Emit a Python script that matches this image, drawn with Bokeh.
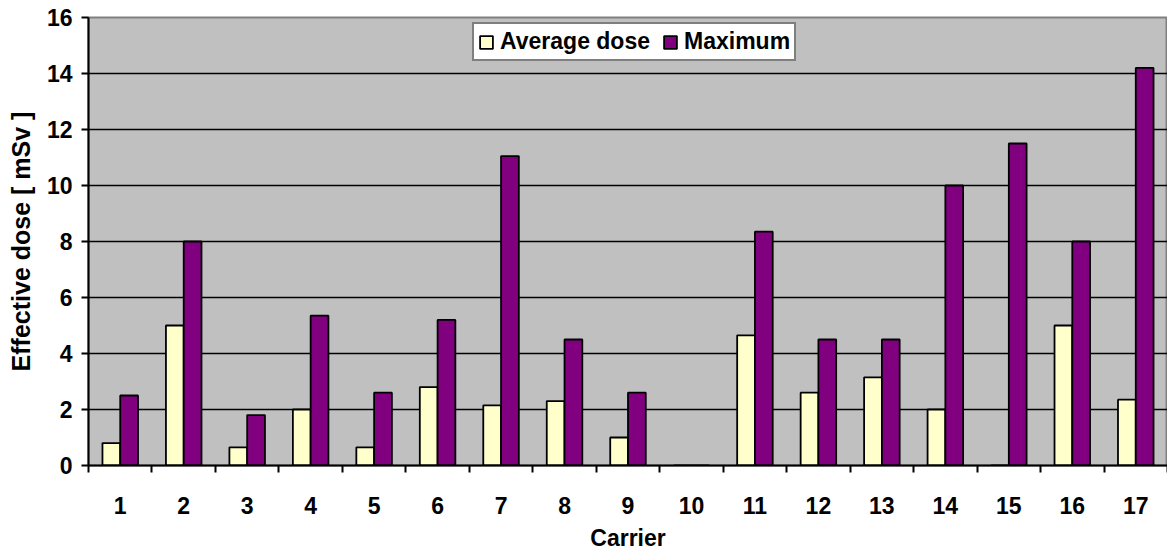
from bokeh.plotting import figure
from bokeh.models import Range1d, FixedTicker, ColumnDataSource, Legend, LegendItem
from bokeh.transform import dodge
from bokeh.embed import file_html
from bokeh.resources import INLINE

carriers = list(range(1, 18))
carrier_labels = [str(c) for c in carriers]
average_dose = [0.8, 5.0, 0.65, 2.0, 0.65, 2.8, 2.15, 2.3, 1.0, 0.0, 4.65, 2.6, 3.15, 2.0, 0.0, 5.0, 2.35]
maximum_dose = [2.5, 8.0, 1.8, 5.35, 2.6, 5.2, 11.05, 4.5, 2.6, 0.0, 8.35, 4.5, 4.5, 10.0, 11.5, 8.0, 14.2]
y_ticks = [0, 2, 4, 6, 8, 10, 12, 14, 16]

FONT = "Liberation Sans"

src = ColumnDataSource(dict(x=carriers, avg=average_dose, mx=maximum_dose))

p = figure(width=1167, height=553, output_backend="svg", toolbar_location=None,
           x_range=Range1d(0.5, 17.5), y_range=Range1d(0, 16),
           min_border_left=88, min_border_right=0, min_border_top=17, min_border_bottom=87)

p.background_fill_color = "#C0C0C0"
p.border_fill_color = "white"
p.outline_line_color = "#808080"
p.outline_line_width = 2

r1 = p.vbar(x=dodge("x", -0.14, range=p.x_range), top="avg", width=0.28, bottom=0, source=src,
            fill_color="#FFFFCC", line_color="black", line_width=1.8)
r2 = p.vbar(x=dodge("x", 0.14, range=p.x_range), top="mx", width=0.28, bottom=0, source=src,
            fill_color="#800080", line_color="black", line_width=1.8)

# axes
p.xaxis.ticker = FixedTicker(ticks=carriers, minor_ticks=[c + 0.5 for c in [0] + carriers])
p.xaxis.major_label_overrides = {c: l for c, l in zip(carriers, carrier_labels)}
p.xaxis.major_tick_out = 0
p.xaxis.major_tick_in = 0
p.xaxis.minor_tick_out = 7
p.xaxis.minor_tick_in = 0
p.xaxis.minor_tick_line_color = "black"
p.xaxis.minor_tick_line_width = 2
p.xaxis.major_label_standoff = 24
p.xaxis.axis_label = "Carrier"
p.xaxis.axis_label_standoff = 8

p.yaxis.ticker = FixedTicker(ticks=y_ticks)
p.yaxis.minor_tick_out = 0
p.yaxis.minor_tick_in = 0
p.yaxis.major_tick_out = 7
p.yaxis.major_tick_in = 0
p.yaxis.major_tick_line_width = 2
p.yaxis.major_label_standoff = 9
p.yaxis.axis_label = "Effective dose [ mSv ]"
p.yaxis.axis_label_standoff = 9

for ax in (p.xaxis[0], p.yaxis[0]):
    ax.axis_line_color = "black"
    ax.axis_line_width = 2
    ax.major_tick_line_color = "black"
    ax.major_label_text_font = FONT
    ax.major_label_text_font_style = "bold"
    ax.major_label_text_font_size = "23px"
    ax.major_label_text_color = "black"
    ax.axis_label_text_font = FONT
    ax.axis_label_text_font_style = "bold"
    ax.axis_label_text_color = "black"
p.xaxis.axis_label_text_font_size = "23px"
p.yaxis.axis_label_text_font_size = "25px"

p.xgrid.grid_line_color = None
p.ygrid.ticker = FixedTicker(ticks=y_ticks)
p.ygrid.grid_line_color = "black"
p.ygrid.grid_line_width = 1.5

legend = Legend(items=[LegendItem(label="Average dose", renderers=[r1]),
                       LegendItem(label="Maximum", renderers=[r2])],
                orientation="horizontal", location=(384, 404))
legend.label_text_font = FONT
legend.label_text_font_style = "bold"
legend.label_text_font_size = "23px"
legend.label_text_color = "black"
legend.glyph_width = 16
legend.glyph_height = 16
legend.label_standoff = 6
legend.spacing = 12
legend.padding = 4
legend.margin = 0
legend.border_line_color = "black"
legend.border_line_width = 2
legend.background_fill_color = "white"
legend.background_fill_alpha = 1
p.add_layout(legend, "center")

open("out.html", "w").write(file_html(p, INLINE))
